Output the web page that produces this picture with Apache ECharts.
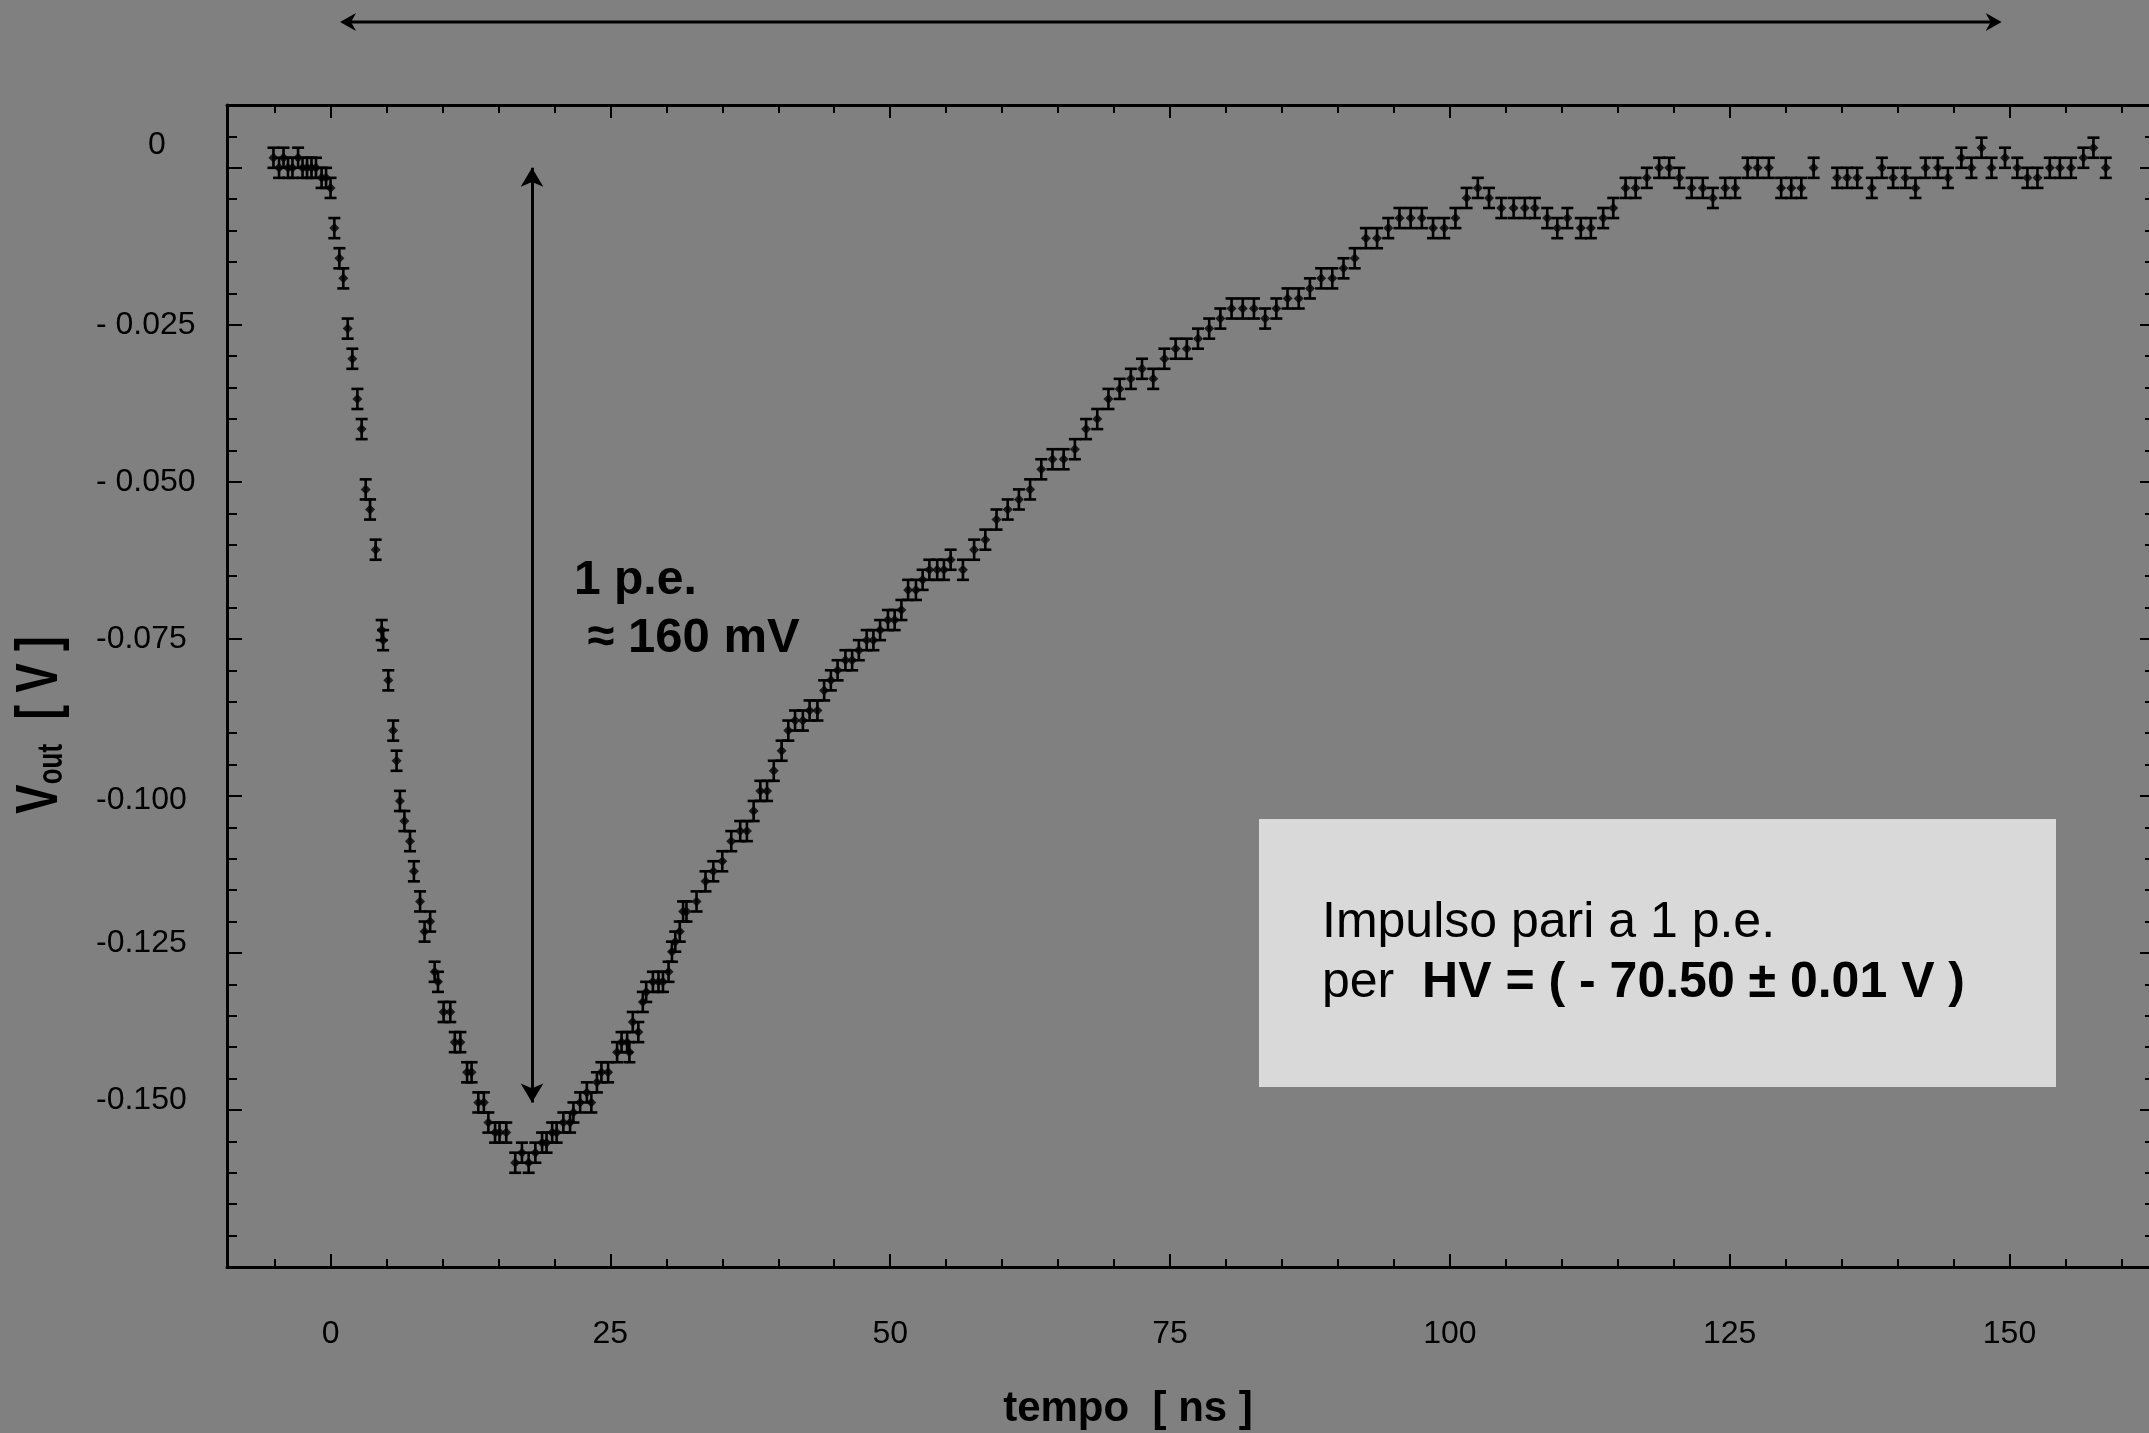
<!DOCTYPE html>
<html>
<head>
<meta charset="utf-8">
<script src="https://cdn.jsdelivr.net/npm/echarts@6/dist/echarts.min.js"></script>
<style>
  html, body { margin: 0; padding: 0; background: #808080; }
  #chart { width: 2149px; height: 1433px; }
</style>
</head>
<body>
<div id="chart"></div>
<script>
// Averaged single photo-electron pulse: time [ns] and output voltage [V]
const timeNs = [
  -5.1, -4.6, -4.2, -3.8, -3.4, -2.9, -2.5, -2.1, -1.7, -1.3, -0.8, -0.4, 0.0,
  0.34, 0.79, 1.14, 1.53, 1.95, 2.4, 2.78, 3.14, 3.53, 4.03, 4.57, 4.7, 5.16, 5.6, 5.9, 6.2, 6.6,
  7.1, 7.45, 8.0, 8.4, 8.9, 9.3, 9.6, 10.1, 10.7, 11.1, 11.6, 12.2, 12.6, 13.2, 13.7, 14.1, 14.7,
  15.1, 15.7, 16.5, 17.1, 17.7, 18.3, 18.9, 19.3, 19.8, 20.2, 20.8, 21.4, 21.7, 22.3, 22.9, 23.3,
  23.8, 24.2, 24.8, 25.6, 26.0, 26.5, 26.7, 27.0, 27.5, 27.9, 28.2, 28.8, 29.3, 29.7, 30.2, 30.5,
  30.8, 31.2, 31.5, 31.8, 32.7, 33.5, 34.2, 35.0, 35.8, 36.6, 37.2, 37.8, 38.4, 39.0, 39.6, 40.3,
  40.9, 41.5, 42.2, 42.8, 43.5, 44.1, 44.7, 45.3, 46.0, 46.6, 47.2, 47.9, 48.5, 49.1, 49.8, 50.4,
  51.0, 51.6, 52.3, 52.9, 53.5, 54.2, 54.8, 55.4, 56.5, 57.5, 58.5, 59.5, 60.5, 61.5, 62.5, 63.5,
  64.5, 65.5, 66.5, 67.5, 68.5, 69.5, 70.5, 71.5, 72.5, 73.5, 74.5, 75.5, 76.5, 77.5, 78.5, 79.5,
  80.5, 81.5, 82.5, 83.5, 84.5, 85.5, 86.5, 87.5, 88.5, 89.5, 90.5, 91.5, 92.5, 93.5, 94.5, 95.5,
  96.5, 97.5, 98.5, 99.5, 100.5, 101.5, 102.5, 103.5, 104.6, 105.7, 106.7, 107.6, 108.7, 109.6,
  110.5, 111.7, 112.6, 113.7, 114.6, 115.7, 116.6, 117.6, 118.7, 119.6, 120.5, 121.6, 122.6, 123.5,
  124.6, 125.5, 126.6, 127.5, 128.5, 129.6, 130.5, 131.4, 132.5, 134.6, 135.5, 136.4, 137.7, 138.6,
  139.6, 140.7, 141.6, 142.5, 143.6, 144.5, 145.7, 146.6, 147.5, 148.4, 149.6, 150.7, 151.6, 152.5,
  153.6, 154.5, 155.5, 156.6, 157.5, 158.6
];
const voltV = [
  0.0016, 0.0, 0.0016, 0.0, 0.0, 0.0016, 0.0, 0.0, 0.0, 0.0, -0.0016, -0.0016, -0.0032,
  -0.0096, -0.0144, -0.0176, -0.0256, -0.0304, -0.0368, -0.0416, -0.0512, -0.0544, -0.0608, -0.0736, -0.0752, -0.0816, -0.0896, -0.0944, -0.1008, -0.1040,
  -0.1072, -0.1120, -0.1168, -0.1216, -0.1200, -0.1280, -0.1296, -0.1344, -0.1344, -0.1392, -0.1392, -0.1440, -0.1440, -0.1488, -0.1488, -0.1520, -0.1536,
  -0.1536, -0.1536, -0.1584, -0.1568, -0.1584, -0.1568, -0.1552, -0.1552, -0.1536, -0.1536, -0.1520, -0.1520, -0.1504, -0.1488, -0.1472, -0.1488,
  -0.1456, -0.1440, -0.1440, -0.1408, -0.1392, -0.1392, -0.1408, -0.1360, -0.1376, -0.1328, -0.1312, -0.1296, -0.1296, -0.1296, -0.1280, -0.1248,
  -0.1232, -0.1216, -0.1184, -0.1184, -0.1168, -0.1136, -0.1120, -0.1104, -0.1072, -0.1056, -0.1056, -0.1024, -0.0992, -0.0992, -0.0960, -0.0928,
  -0.0896, -0.0880, -0.0880, -0.0864, -0.0864, -0.0832, -0.0816, -0.0800, -0.0784, -0.0784, -0.0768, -0.0752, -0.0752, -0.0736, -0.0720, -0.0720,
  -0.0704, -0.0672, -0.0672, -0.0656, -0.0640, -0.0640, -0.0640, -0.0624, -0.0640, -0.0608, -0.0592, -0.0560, -0.0544, -0.0528, -0.0512, -0.0480,
  -0.0464, -0.0464, -0.0448, -0.0416, -0.0400, -0.0368, -0.0352, -0.0336, -0.0320, -0.0336, -0.0304, -0.0288, -0.0288, -0.0272, -0.0256, -0.0240,
  -0.0224, -0.0224, -0.0224, -0.0240, -0.0224, -0.0208, -0.0208, -0.0192, -0.0176, -0.0176, -0.0160, -0.0144, -0.0112, -0.0112, -0.0096, -0.0080,
  -0.0080, -0.0080, -0.0096, -0.0096, -0.0080, -0.0048, -0.0032, -0.0048, -0.0064, -0.0064, -0.0064, -0.0064, -0.0080, -0.0096,
  -0.0080, -0.0096, -0.0096, -0.0080, -0.0064, -0.0032, -0.0032, -0.0016, 0.0, 0.0, -0.0016, -0.0032, -0.0032, -0.0048,
  -0.0032, -0.0032, 0.0, 0.0, 0.0, -0.0032, -0.0032, -0.0032, 0.0, -0.0016, -0.0016, -0.0016, -0.0032, 0.0,
  -0.0016, -0.0016, -0.0032, 0.0, 0.0, -0.0016, 0.0016, 0.0, 0.0032, 0.0, 0.0016, 0.0, -0.0016, -0.0016,
  0.0, 0.0, 0.0, 0.0016, 0.0032, 0.0
];
// Half-height of each error bar [V]
const voltErr = 0.0016;

// Axis ticks and labels
const xMajorTicks = [0, 25, 50, 75, 100, 125, 150];
const xMinorTicks = [-5, 5, 10, 15, 20, 30, 35, 40, 45, 55, 60, 65, 70, 80, 85, 90, 95,
  105, 110, 115, 120, 130, 135, 140, 145, 155, 160];
const yMajorTicks = [0, -0.025, -0.05, -0.075, -0.1, -0.125, -0.15, -0.175];
const yMinorTicks = [0.005, -0.005, -0.01, -0.015, -0.02, -0.03, -0.035, -0.04, -0.045,
  -0.055, -0.06, -0.065, -0.07, -0.08, -0.085, -0.09, -0.095, -0.105, -0.11, -0.115, -0.12,
  -0.13, -0.135, -0.14, -0.145, -0.155, -0.16, -0.165, -0.17];
const yLabelValues = [0, -0.025, -0.05, -0.075, -0.1, -0.125, -0.15];
const yLabelTexts = ['0', '- 0.025', '- 0.050', '-0.075', '-0.100', '-0.125', '-0.150'];
const yLabelStyle = ['zero', 'n', 'n', 'n', 'dn', 'up', 'up'];

// Annotations
const peArrow = { t: 18.0, from: 0.0, to: -0.1488 };
const windowSpan = [0.85, 149.3];

const FONT = '"Liberation Sans", Arial, Helvetica, sans-serif';
const X_MIN = -9.25, X_MAX = 163, Y_MIN = -0.175, Y_MAX = 0.01;

const chart = echarts.init(document.getElementById('chart'), null, { renderer: 'canvas' });

const errData = timeNs.map((t, i) => [t, voltV[i], voltErr]);
const ptData = timeNs.map((t, i) => [t, voltV[i]]);

function renderErr(params, api) {
  const x = api.value(0), y = api.value(1), e = api.value(2);
  const top = api.coord([x, y + e]);
  const bot = api.coord([x, y - e]);
  const hw = 6;
  const st = { stroke: '#000', lineWidth: 2.6 };
  return {
    type: 'group',
    children: [
      { type: 'line', shape: { x1: top[0], y1: top[1], x2: bot[0], y2: bot[1] }, style: st },
      { type: 'line', shape: { x1: top[0] - hw, y1: top[1], x2: top[0] + hw, y2: top[1] }, style: st },
      { type: 'line', shape: { x1: bot[0] - hw, y1: bot[1], x2: bot[0] + hw, y2: bot[1] }, style: st }
    ]
  };
}

const frameLine = { show: true, onZero: false, lineStyle: { color: '#000', width: 3 } };
const noLine = { show: false, onZero: false };

function xAxisDef(position, ticks, len, withLabels, withLine) {
  return {
    type: 'value', position, min: X_MIN, max: X_MAX,
    axisLine: withLine ? frameLine : noLine,
    splitLine: { show: false },
    axisTick: { show: true, inside: true, length: len, customValues: ticks,
      lineStyle: { color: '#000', width: 2 } },
    axisLabel: withLabels ? {
      show: true, customValues: xMajorTicks, margin: 51,
      color: '#000', fontFamily: FONT, fontSize: 32, lineHeight: 32,
      formatter: v => String(v)
    } : { show: false }
  };
}

function yAxisDef(position, ticks, len, withLabels, withLine) {
  return {
    type: 'value', position, min: Y_MIN, max: Y_MAX,
    axisLine: withLine ? frameLine : noLine,
    splitLine: { show: false },
    axisTick: { show: true, inside: true, length: len, customValues: ticks,
      lineStyle: { color: '#000', width: 2 } },
    axisLabel: withLabels ? {
      show: true, customValues: yLabelValues, margin: 131, align: 'left',
      color: '#000', fontFamily: FONT, fontSize: 32,
      formatter: v => {
        const i = yLabelValues.findIndex(u => Math.abs(u - v) < 1e-9);
        if (i < 0) return '';
        return '{' + yLabelStyle[i] + '|' + yLabelTexts[i] + '}';
      },
      rich: {
        n: { fontFamily: FONT, fontSize: 32, color: '#000', padding: [0, 0, 0, 0] },
        zero: { fontFamily: FONT, fontSize: 32, color: '#000', padding: [0, 0, 46, 52] },
        up: { fontFamily: FONT, fontSize: 32, color: '#000', padding: [0, 0, 20, 0] },
        dn: { fontFamily: FONT, fontSize: 32, color: '#000', padding: [8, 0, 0, 0] }
      }
    } : { show: false }
  };
}

const option = {
  backgroundColor: '#808080',
  animation: false,
  grid: { left: 227, top: 105, width: 1928, height: 1162, containLabel: false, outerBoundsMode: 'none' },
  xAxis: [
    xAxisDef('bottom', xMajorTicks, 13, true, true),
    xAxisDef('bottom', xMinorTicks, 8, false, false),
    xAxisDef('top', xMajorTicks, 13, false, true),
    xAxisDef('top', xMinorTicks, 8, false, false)
  ],
  yAxis: [
    yAxisDef('left', yMajorTicks, 15, true, true),
    yAxisDef('left', yMinorTicks, 10, false, false),
    yAxisDef('right', yMajorTicks, 15, false, true),
    yAxisDef('right', yMinorTicks, 10, false, false)
  ],
  series: [
    {
      type: 'custom', name: 'errors', xAxisIndex: 0, yAxisIndex: 0,
      renderItem: renderErr, data: errData, silent: true, z: 2
    },
    {
      type: 'scatter', name: 'Vout', xAxisIndex: 0, yAxisIndex: 0,
      data: ptData, symbol: 'diamond', symbolSize: 10,
      itemStyle: { color: '#000' }, silent: true, z: 3,
      markLine: {
        silent: true, symbol: ['arrow', 'arrow'], symbolSize: [17, 19],
        label: { show: false },
        lineStyle: { color: '#000', width: 3, type: 'solid' },
        data: [[{ coord: [peArrow.t, peArrow.from] }, { coord: [peArrow.t, peArrow.to] }]]
      }
    }
  ]
};

chart.setOption(option);

// Annotations drawn on top of the plot
const xl = chart.convertToPixel({ xAxisIndex: 0 }, windowSpan[0]);
const xr = chart.convertToPixel({ xAxisIndex: 0 }, windowSpan[1]);
const ya = 22;
function arrowHead(tipX, tipY, dir) {
  const L = 16, H = 9, N = 5;
  return {
    type: 'polygon',
    shape: { points: [[tipX, tipY], [tipX - dir * L, tipY - H], [tipX - dir * (L - N), tipY], [tipX - dir * L, tipY + H]] },
    style: { fill: '#000' }
  };
}

chart.setOption({
  graphic: [
    { type: 'line', shape: { x1: xl + 6, y1: ya, x2: xr - 6, y2: ya }, style: { stroke: '#000', lineWidth: 3 } },
    arrowHead(xl, ya, -1),
    arrowHead(xr, ya, 1),
    {
      type: 'text', x: 574, y: 581,
      style: { text: '1 p.e.', fill: '#000', font: 'bold 48px ' + FONT, align: 'left', verticalAlign: 'middle' }
    },
    {
      type: 'text', x: 574, y: 638,
      style: { text: ' \u2248 160 mV', fill: '#000', font: 'bold 49px ' + FONT, align: 'left', verticalAlign: 'middle' }
    },
    {
      type: 'rect', shape: { x: 1259, y: 819, width: 797, height: 268 },
      style: { fill: '#d9d9d9' }, z: 10
    },
    {
      type: 'text', x: 1322, y: 923, z: 11,
      style: { text: 'Impulso pari a 1 p.e.', fill: '#000', font: '50px ' + FONT, align: 'left', verticalAlign: 'middle' }
    },
    {
      type: 'text', x: 1322, y: 983, z: 11,
      style: {
        text: '{r|per  }{b|HV = ( - 70.50 \u00b1 0.01 V )}', align: 'left', verticalAlign: 'middle',
        rich: {
          r: { fontFamily: FONT, fontSize: 50, color: '#000' },
          b: { fontFamily: FONT, fontSize: 50, fontWeight: 'bold', color: '#000' }
        }
      }
    },
    {
      type: 'text', x: 1128, y: 1409,
      style: { text: 'tempo  [ ns ]', fill: '#000', font: 'bold 42px ' + FONT, align: 'center', verticalAlign: 'middle' }
    },
    {
      type: 'text', x: 40, y: 725, rotation: Math.PI / 2, scaleY: 1.36,
      style: {
        text: '{v|V}{s|out}{v|  [ V ]}', align: 'center', verticalAlign: 'middle',
        rich: {
          v: { fontFamily: FONT, fontSize: 44, fontWeight: 'bold', color: '#000', verticalAlign: 'bottom' },
          s: { fontFamily: FONT, fontSize: 26, fontWeight: 'bold', color: '#000', verticalAlign: 'bottom' }
        }
      }
    }
  ]
});
</script>
</body>
</html>
